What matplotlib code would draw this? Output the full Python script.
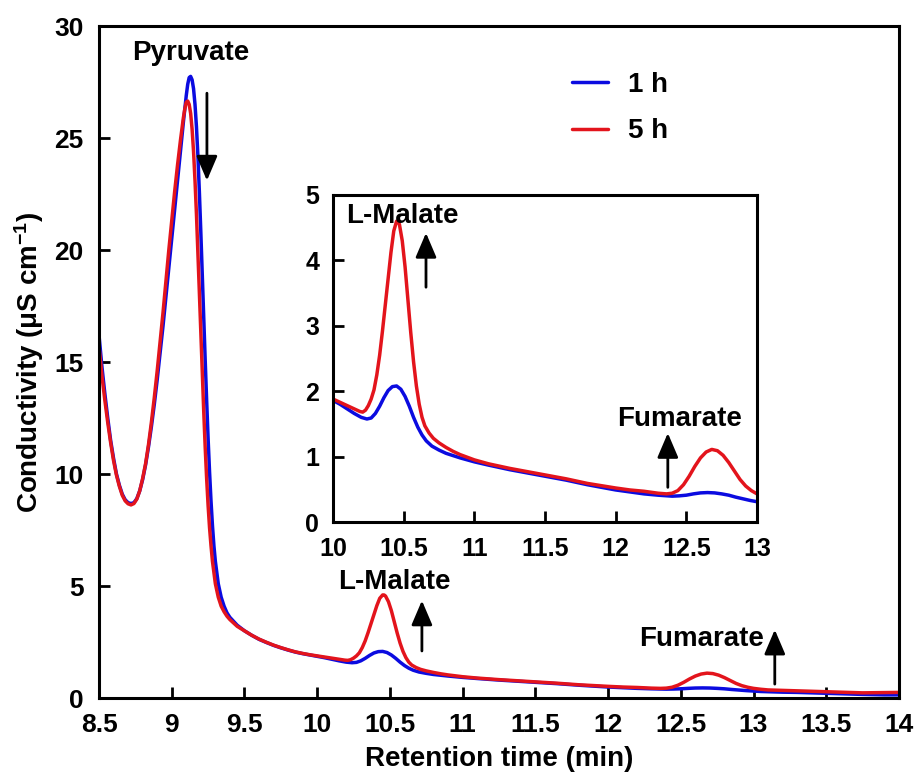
import matplotlib
matplotlib.use("Agg")
import matplotlib.pyplot as plt

plt.rcParams['font.family'] = ['Liberation Sans', 'DejaVu Sans']
plt.rcParams['font.weight'] = 'bold'
plt.rcParams['mathtext.fontset'] = 'custom'
plt.rcParams['mathtext.rm'] = 'Liberation Sans:bold'
plt.rcParams['mathtext.bf'] = 'Liberation Sans:bold'
plt.rcParams['mathtext.default'] = 'bf'

# ---------------- data ----------------
t_1h = [8.50, 8.52, 8.54, 8.56, 8.58, 8.60, 8.62, 8.64, 8.66, 8.68, 8.70, 8.72,
        8.74, 8.76, 8.78, 8.80, 8.82, 8.84, 8.86, 8.88, 8.90, 8.92, 8.94, 8.96,
        8.98, 9.00, 9.02, 9.04, 9.06, 9.08, 9.10, 9.11, 9.12, 9.13, 9.14, 9.15,
        9.16, 9.17, 9.18, 9.19, 9.20, 9.21, 9.22, 9.23, 9.24, 9.25, 9.26, 9.27,
        9.28, 9.29, 9.30, 9.32, 9.34, 9.36, 9.38, 9.40, 9.45, 9.50, 9.55, 9.60,
        9.65, 9.70, 9.75, 9.80, 9.85, 9.90, 9.95,
        10.00, 10.05, 10.10, 10.15, 10.20, 10.24, 10.27, 10.30, 10.33, 10.36,
        10.39, 10.42, 10.45, 10.48, 10.51, 10.54, 10.57, 10.60, 10.63, 10.66,
        10.70, 10.75, 10.80, 10.90, 11.00, 11.10, 11.25, 11.40, 11.50, 11.65,
        11.80, 12.00, 12.10, 12.20, 12.30, 12.40, 12.45, 12.50, 12.55, 12.60,
        12.65, 12.70, 12.75, 12.80, 12.85, 12.90, 12.95, 13.00, 13.05, 13.10,
        13.20, 13.30, 13.40, 13.50, 13.60, 13.75, 13.90, 14.00]
c_1h = [16.2, 14.8, 13.6, 12.5, 11.5, 10.7, 10.0, 9.5, 9.1, 8.85, 8.72, 8.68,
        8.72, 8.9, 9.25, 9.75, 10.4, 11.2, 12.1, 13.1, 14.2, 15.4, 16.6, 17.9,
        19.2, 20.5, 21.8, 23.1, 24.4, 25.7, 26.9, 27.4, 27.7, 27.75, 27.6, 27.2,
        26.5, 25.5, 24.2, 22.6, 20.8, 18.9, 17.0, 15.1, 13.3, 11.6, 10.1, 8.8,
        7.7, 6.8, 6.1, 5.1, 4.5, 4.1, 3.8, 3.6, 3.25, 3.0, 2.8, 2.62,
        2.48, 2.35, 2.24, 2.14, 2.05, 1.98, 1.92,
        1.86, 1.80, 1.73, 1.66, 1.60, 1.575, 1.59, 1.66, 1.77, 1.90,
        2.01, 2.07, 2.08, 2.03, 1.92, 1.77, 1.60, 1.45, 1.33, 1.24,
        1.16, 1.10, 1.05, 0.98, 0.92, 0.87, 0.80, 0.74, 0.70, 0.64,
        0.57, 0.49, 0.46, 0.43, 0.41, 0.395, 0.40, 0.41, 0.43, 0.445,
        0.45, 0.445, 0.43, 0.41, 0.38, 0.355, 0.33, 0.31, 0.29, 0.28,
        0.26, 0.25, 0.23, 0.21, 0.19, 0.16, 0.14, 0.14]

t_5h = [8.50, 8.52, 8.54, 8.56, 8.58, 8.60, 8.62, 8.64, 8.66, 8.68, 8.70, 8.72,
        8.74, 8.76, 8.78, 8.80, 8.82, 8.84, 8.86, 8.88, 8.90, 8.92, 8.94, 8.96,
        8.98, 9.00, 9.02, 9.04, 9.06, 9.08, 9.09, 9.10, 9.11, 9.12, 9.13, 9.14,
        9.15, 9.16, 9.17, 9.18, 9.19, 9.20, 9.21, 9.22, 9.23, 9.24, 9.25, 9.26,
        9.27, 9.28, 9.30, 9.32, 9.34, 9.36, 9.38, 9.40, 9.45, 9.50, 9.55, 9.60,
        9.65, 9.70, 9.75, 9.80, 9.85, 9.90, 9.95,
        10.00, 10.05, 10.10, 10.15, 10.19, 10.21, 10.23, 10.25, 10.27, 10.29,
        10.31, 10.33, 10.35, 10.37, 10.39, 10.41, 10.43, 10.45, 10.46, 10.47,
        10.49, 10.51, 10.53, 10.55, 10.57, 10.59, 10.61, 10.63, 10.65, 10.68,
        10.71, 10.75, 10.80, 10.85, 10.90, 11.00, 11.10, 11.25, 11.40, 11.50,
        11.65, 11.80, 12.00, 12.10, 12.20, 12.30, 12.36, 12.40, 12.44, 12.48,
        12.52, 12.56, 12.60, 12.64, 12.68, 12.72, 12.76, 12.80, 12.84, 12.88,
        12.92, 12.96, 13.00, 13.05, 13.10, 13.20, 13.30, 13.40, 13.50, 13.60,
        13.75, 13.90, 14.00]
c_5h = [15.7, 14.4, 13.3, 12.3, 11.4, 10.6, 9.95, 9.45, 9.05, 8.8, 8.67, 8.62,
        8.68, 8.88, 9.25, 9.8, 10.45, 11.3, 12.3, 13.4, 14.6, 15.9, 17.2, 18.6,
        20.0, 21.3, 22.6, 23.8, 24.9, 25.9, 26.3, 26.6, 26.65, 26.5, 26.1, 25.4,
        24.4, 23.1, 21.6, 19.9, 18.1, 16.3, 14.5, 12.8, 11.2, 9.8, 8.6, 7.6,
        6.8, 6.1, 5.1, 4.5, 4.1, 3.85, 3.65, 3.5, 3.2, 3.0, 2.8, 2.63,
        2.49, 2.36, 2.25, 2.15, 2.06, 1.99, 1.93,
        1.88, 1.83, 1.78, 1.73, 1.69, 1.68, 1.71, 1.78, 1.88, 2.02,
        2.25, 2.55, 2.92, 3.32, 3.73, 4.12, 4.45, 4.60, 4.60, 4.55,
        4.30, 3.90, 3.40, 2.90, 2.45, 2.08, 1.80, 1.60, 1.47, 1.36,
        1.28, 1.21, 1.14, 1.08, 1.03, 0.95, 0.89, 0.82, 0.76, 0.72,
        0.66, 0.59, 0.52, 0.49, 0.47, 0.44, 0.43, 0.44, 0.48, 0.57,
        0.70, 0.85, 0.98, 1.07, 1.11, 1.09, 1.02, 0.91, 0.78, 0.65,
        0.55, 0.48, 0.43, 0.39, 0.36, 0.34, 0.32, 0.30, 0.28, 0.26,
        0.23, 0.24, 0.25]

series_labels = ['1 h', '5 h']
series_colors = ['#0b0be0', '#e3141c']

main_xticks = [8.5, 9, 9.5, 10, 10.5, 11, 11.5, 12, 12.5, 13, 13.5, 14]
main_xticklabels = ['8.5', '9', '9.5', '10', '10.5', '11', '11.5', '12', '12.5', '13', '13.5', '14']
main_yticks = [0, 5, 10, 15, 20, 25, 30]
inset_xticks = [10, 10.5, 11, 11.5, 12, 12.5, 13]
inset_xticklabels = ['10', '10.5', '11', '11.5', '12', '12.5', '13']
inset_yticks = [0, 1, 2, 3, 4, 5]

# ---------------- figure ----------------
fig = plt.figure(figsize=(9.14, 7.78), dpi=100)
ax = fig.add_axes([99/914, 1-698/778, 800/914, 672/778])

lw = 2.5
for t, c, lab, col in zip([t_1h, t_5h], [c_1h, c_5h], series_labels, series_colors):
    ax.plot(t, c, color=col, lw=lw, label=lab, solid_capstyle='round', solid_joinstyle='round')

ax.set_xlim(8.5, 14)
ax.set_ylim(0, 30)
ax.set_xticks(main_xticks)
ax.set_xticklabels(main_xticklabels)
ax.set_yticks(main_yticks)
for s in ax.spines.values():
    s.set_linewidth(2.2)
ax.tick_params(direction='in', length=8, width=2, labelsize=19, top=False, right=False)
ax.tick_params(axis='x', pad=11)
ax.tick_params(axis='y', pad=11)
ax.set_xlabel('Retention time (min)', fontsize=20, fontweight='bold', labelpad=6)
ax.set_ylabel('Conductivity (μS cm$^{-1}$)', fontsize=20, fontweight='bold', labelpad=6)

leg = ax.legend(loc='center', bbox_to_anchor=(0.651, 0.878), frameon=False,
                fontsize=20, handlelength=1.3, handletextpad=0.7, labelspacing=0.75)

arrow_kw = dict(arrowstyle='-|>,head_length=0.75,head_width=0.32', lw=2, color='black',
                shrinkA=0, shrinkB=0, mutation_scale=20)

# main annotations
ax.text(9.132, 28.48, 'Pyruvate', ha='center', va='baseline', fontsize=20, fontweight='bold')
ax.annotate('', xy=(9.242, 23.1), xytext=(9.242, 27.0), arrowprops=arrow_kw)
ax.text(10.53, 4.85, 'L-Malate', ha='center', va='baseline', fontsize=20, fontweight='bold')
ax.annotate('', xy=(10.72, 4.35), xytext=(10.72, 2.1), arrowprops=arrow_kw)
ax.text(12.645, 2.32, 'Fumarate', ha='center', va='baseline', fontsize=20, fontweight='bold')
ax.annotate('', xy=(13.146, 3.05), xytext=(13.146, 0.62), arrowprops=arrow_kw)

# ---------------- inset ----------------
ins = fig.add_axes([333/914, 1-522/778, 424/914, 327/778])
for t, c, col in zip([t_1h, t_5h], [c_1h, c_5h], series_colors):
    ins.plot(t, c, color=col, lw=lw, solid_capstyle='round', solid_joinstyle='round')
ins.set_xlim(10, 13)
ins.set_ylim(0, 5)
ins.set_xticks(inset_xticks)
ins.set_xticklabels(inset_xticklabels)
ins.set_yticks(inset_yticks)
for s in ins.spines.values():
    s.set_linewidth(2.2)
ins.tick_params(direction='in', length=8, width=2, labelsize=18, top=False, right=False)
ins.tick_params(axis='x', pad=11)
ins.tick_params(axis='y', pad=10)

ins.text(10.49, 4.57, 'L-Malate', ha='center', va='baseline', fontsize=20, fontweight='bold')
ins.annotate('', xy=(10.658, 4.42), xytext=(10.658, 3.59), arrowprops=arrow_kw)
ins.text(12.45, 1.47, 'Fumarate', ha='center', va='baseline', fontsize=20, fontweight='bold')
ins.annotate('', xy=(12.369, 1.36), xytext=(12.369, 0.53), arrowprops=arrow_kw)

fig.savefig('out.png', dpi=100)
